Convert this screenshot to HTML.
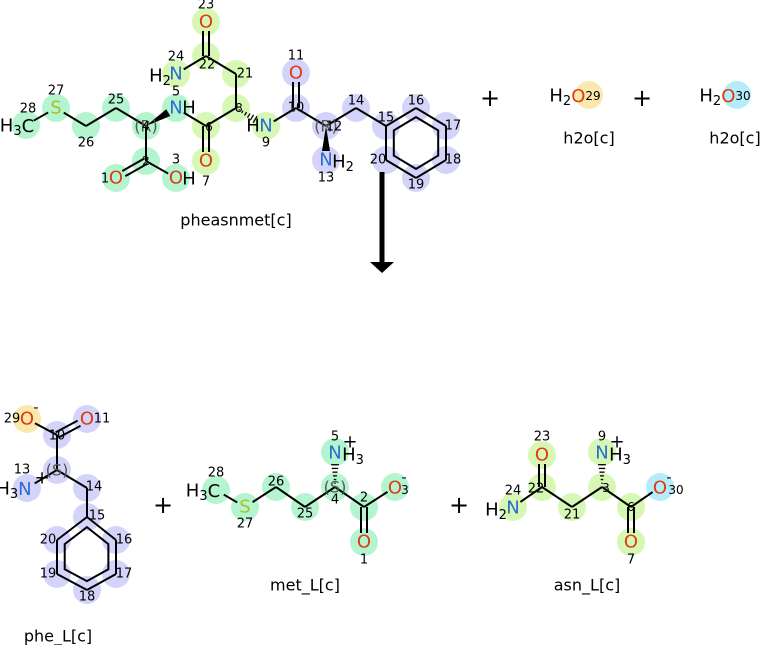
<!DOCTYPE html><html><head><meta charset="utf-8"><style>body{margin:0;background:#fff}svg{display:block}text{font-family:"DejaVu Sans","Liberation Sans",sans-serif}</style></head><body>
<svg id="s" width="765" height="645" xmlns="http://www.w3.org/2000/svg"></svg>
<script>
var G='#b4f5d0',L='#d6f8b4',P='#d4d4fa',Y='#fbe8ac',C='#b4ecfa';
var NC='#2a6cd0',OC='#e03a10',SC='#a8c020';
var s=document.getElementById('s'),h='';
function circ(x,y,c){h+='<circle cx="'+x+'" cy="'+y+'" r="14" fill="'+c+'"/>';}
function t(x,y,str,sz,col,anc){h+='<text x="'+x+'" y="'+y+'" font-size="'+sz+'" fill="'+(col||'#000')+'" text-anchor="'+(anc||'middle')+'" dominant-baseline="central">'+str+'</text>';}
function mol(A,B,ring){
 for(var k in A){circ(A[k][0],A[k][1],A[k][3]);}
 for(var i=0;i<B.length;i++){var a=A[B[i][0]],b=A[B[i][1]],ty=B[i][2]||1;
  var dx=b[0]-a[0],dy=b[1]-a[1],l=Math.sqrt(dx*dx+dy*dy),ux=dx/l,uy=dy/l;
  var s1=a[2]?9:0,s2=b[2]?9:0;
  var x1=a[0]+ux*s1,y1=a[1]+uy*s1,x2=b[0]-ux*s2,y2=b[1]-uy*s2,nx=-uy,ny=ux;
  if(ty==2){h+='<line x1="'+(x1+nx*3)+'" y1="'+(y1+ny*3)+'" x2="'+(x2+nx*3)+'" y2="'+(y2+ny*3)+'" stroke="#000" stroke-width="2"/><line x1="'+(x1-nx*3)+'" y1="'+(y1-ny*3)+'" x2="'+(x2-nx*3)+'" y2="'+(y2-ny*3)+'" stroke="#000" stroke-width="2"/>';}
  else if(ty==3){h+='<polygon points="'+x1+','+y1+' '+(x2+nx*4)+','+(y2+ny*4)+' '+(x2-nx*4)+','+(y2-ny*4)+'" fill="#000"/>';}
  else if(ty==4){for(var j=1;j<=6;j++){var f=j/7,w=f*4.5,px=x1+dx*f*(l-s1-s2)/l,py=y1+dy*f*(l-s1-s2)/l;h+='<line x1="'+(px+nx*w)+'" y1="'+(py+ny*w)+'" x2="'+(px-nx*w)+'" y2="'+(py-ny*w)+'" stroke="#000" stroke-width="1.3"/>';}}
  else h+='<line x1="'+x1+'" y1="'+y1+'" x2="'+x2+'" y2="'+y2+'" stroke="#000" stroke-width="2"/>';}
 if(ring){var cx=0,cy=0;for(var q=0;q<6;q++){cx+=A[ring[q]][0];cy+=A[ring[q]][1];}cx/=6;cy/=6;
  var pts=ring.map(function(k){return (cx+(A[k][0]-cx)*0.74)+','+(cy+(A[k][1]-cy)*0.74);}).join(' ');
  h+='<polygon points="'+pts+'" fill="none" stroke="#000" stroke-width="2"/>';}
}
// top molecule
var T={28:[26,125,1,G],27:[56,108,1,G],26:[86,126,0,G],25:[116,108,0,G],4:[146,126,0,G],5:[176,108,1,G],6:[206,126,0,L],7:[206,161,1,L],2:[146,161,0,G],1:[116,178,1,G],3:[176,178,1,G],8:[236,108,0,L],21:[236,74,0,L],22:[206,56,0,L],23:[206,22,1,L],24:[176,74,1,L],9:[266,126,1,L],10:[296,108,0,P],11:[296,73,1,P],12:[326,126,0,P],13:[326,160,1,P],14:[356,108,0,P],15:[386,126,0,P],16:[416,108,0,P],17:[446,126,0,P],18:[446,160,0,P],19:[416,178,0,P],20:[386,160,0,P]};
mol(T,[[28,27],[27,26],[26,25],[25,4],[4,5,3],[5,6],[6,7,2],[4,2],[2,1,2],[2,3],[6,8],[8,21],[21,22],[22,23,2],[22,24],[8,9,4],[9,10],[10,11,2],[10,12],[12,13,3],[12,14],[14,15],[15,16],[16,17],[17,18],[18,19],[19,20],[20,15]],[15,16,17,18,19,20]);
t(17,126,'H<tspan font-size="13" dy="5">3</tspan><tspan dy="-5">C</tspan>',18);t(28,109,'28',13);
t(56,108,'S',18,SC);t(56,91,'27',13);t(86,143,'26',13);t(116,100,'25',13);t(146,126,'(R)',16,'#555');t(146,126,'4',12);
t(176,108,'N',18,NC);t(189,108,'H',18);t(176,92,'5',13);t(209,127,'6',12);t(206,161,'O',18,OC);t(206,182,'7',13);
t(146,161,'2',12);t(116,178,'O',18,OC);t(105,179,'1',13);t(176,178,'O',18,OC);t(189,179,'H',18);t(176,160,'3',13);
t(239,108,'8',12);t(245,74,'21',13);t(207,65,'22',13);t(206,22,'O',18,OC);t(206,5,'23',13);
t(176,74,'N',18,NC);t(160,76,'H<tspan font-size="13" dy="5">2</tspan>',18);t(176,57,'24',13);
t(266,126,'N',18,NC);t(253,126,'H',18);t(266,143,'9',13);t(296,108,'10',13);t(296,73,'O',18,OC);t(296,56,'11',13);
t(326,126,'(R)',16,'#555');t(334,127,'12',13);t(326,160,'N',18,NC);t(343,162,'H<tspan font-size="13" dy="5">2</tspan>',18);t(326,178,'13',13);
t(356,101,'14',13);t(386,118,'15',13);t(416,101,'16',13);t(453,126,'17',13);t(453,160,'18',13);t(416,185,'19',13);t(378,160,'20',13);
t(236,220,'pheasnmet[c]',16);
// arrow
h+='<line x1="382" y1="172" x2="382" y2="262" stroke="#000" stroke-width="5"/><polygon points="370,262 394,262 382,273" fill="#000"/>';
// plus & water
t(490,98,'+',24);t(642,98,'+',24);circ(589,95,Y);circ(737,95,C);
t(575,96,'H<tspan font-size="13" dy="5">2</tspan><tspan dy="-5" fill="'+OC+'">O</tspan><tspan font-size="12">29</tspan>',18);
t(725,96,'H<tspan font-size="13" dy="5">2</tspan><tspan dy="-5" fill="'+OC+'">O</tspan><tspan font-size="12">30</tspan>',18);
t(589,138,'h2o[c]',16);t(735,138,'h2o[c]',16);
// phe
var Ph={29:[27,419,1,Y],11:[87,419,1,P],10:[57,435,0,P],2:[57,470,0,P],13:[27,488,1,P],14:[87,488,0,P],15:[87,517,0,P],16:[116,540,0,P],17:[116,574,0,P],18:[87,590,0,P],19:[57,574,0,P],20:[57,540,0,P]};
mol(Ph,[[10,29],[10,11,2],[10,2],[2,13],[2,14],[14,15],[15,16],[16,17],[17,18],[18,19],[19,20],[20,15]],[15,16,17,18,19,20]);
t(27,419,'O',18,OC);t(36,408,'-',14);t(12,419,'29',13);t(87,419,'O',18,OC);t(102,419,'11',13);t(57,436,'10',13);
t(57,470,'(S)',16,'#555');t(22,470,'13',13);t(14,489,'H<tspan font-size="13" dy="5">3</tspan><tspan dy="-5" fill="'+NC+'">N</tspan>',18);t(42,478,'+',18);
t(94,487,'14',13);t(97,516,'15',13);t(124,540,'16',13);t(124,574,'17',13);t(87,597,'18',13);t(48,574,'19',13);t(48,540,'20',13);
t(58,636,'phe_L[c]',16);
t(163,505,'+',24);t(459,505,'+',24);
// met
var M={28:[216,490,1,G],27:[245,507,1,G],26:[276,487,0,G],25:[305,507,0,G],4:[335,487,0,G],5:[335,452,1,G],2:[364,507,0,G],1:[364,542,1,G],3:[395,487,1,G]};
mol(M,[[28,27],[27,26],[26,25],[25,4],[4,5,4],[4,2],[2,1,2],[2,3]]);
t(203,491,'H<tspan font-size="13" dy="5">3</tspan><tspan dy="-5">C</tspan>',18);t(216,473,'28',13);t(245,507,'S',18,SC);t(245,524,'27',13);
t(276,482,'26',13);t(305,514,'25',13);t(335,487,'(S)',16,'#555');t(335,500,'4',13);
t(335,453,'N',18,NC);t(353,455,'H<tspan font-size="13" dy="5">3</tspan>',18);t(350,442,'+',18);t(335,437,'5',13);
t(364,498,'2',13);t(364,542,'O',18,OC);t(364,560,'1',13);t(395,488,'O',18,OC);t(405,490,'3',12);t(404,478,'-',14);
t(305,585,'met_L[c]',16);
// asn
var N={24:[513,507,1,L],22:[542,487,0,L],23:[542,455,1,L],21:[572,507,0,L],3:[602,487,0,L],9:[602,452,1,L],6:[631,507,0,L],7:[631,542,1,L],30:[660,487,1,C]};
mol(N,[[24,22],[22,23,2],[22,21],[21,3],[3,9,4],[3,6],[6,7,2],[6,30]]);
t(513,508,'N',18,NC);t(496,510,'H<tspan font-size="13" dy="5">2</tspan>',18);t(513,491,'24',13);t(536,489,'22',13);
t(542,455,'O',18,OC);t(542,437,'23',13);t(572,515,'21',13);t(606,488,'3',12);
t(602,453,'N',18,NC);t(620,455,'H<tspan font-size="13" dy="5">3</tspan>',18);t(617,442,'+',18);t(602,437,'9',13);
t(631,507,'6',12);t(631,542,'O',18,OC);t(631,560,'7',13);t(660,488,'O',18,OC);t(676,490,'30',12);t(669,478,'-',14);
t(587,585,'asn_L[c]',16);
s.innerHTML=h;
</script></body></html>
